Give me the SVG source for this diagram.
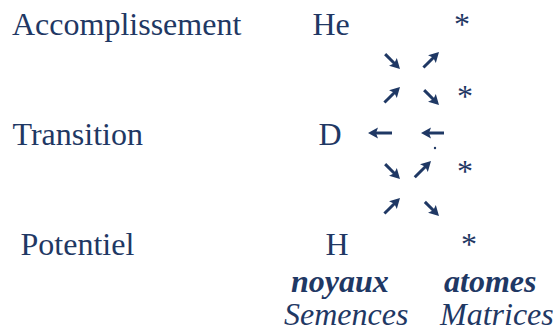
<svg xmlns="http://www.w3.org/2000/svg" width="553" height="333" viewBox="0 0 553 333">
  <defs>
    <style>
      text { font-family: "Liberation Serif", "Times New Roman", Tinos, "DejaVu Serif", serif; font-size: 32px; fill: #1F3864; }
      .bi { font-weight: bold; font-style: italic; }
      .i { font-style: italic; }
      .shaft { stroke: #1F3864; stroke-width: 3; }
      .head { fill: #1F3864; }
    </style>
  </defs>
  <rect width="553" height="333" fill="#ffffff"/>

  <g id="labels">
    <text x="12" y="35">Accomplissement</text>
    <text x="12.5" y="145">Transition</text>
    <text x="20.5" y="255">Potentiel</text>
  </g>

  <g id="node-He"><text x="312.5" y="35">He</text></g>
  <g id="node-D"><text x="318.5" y="145">D</text></g>
  <g id="node-H"><text x="325.5" y="255">H</text></g>

  <g id="star-1"><text x="454" y="35">*</text></g>
  <g id="star-2"><text x="457" y="107">*</text></g>
  <g id="star-3"><text x="457" y="182">*</text></g>
  <g id="star-4"><text x="461" y="255">*</text></g>

  <g id="col-noyaux">
    <text class="bi" x="291" y="292">noyaux</text>
    <text class="i" x="284" y="325">Semences</text>
  </g>
  <g id="col-atomes">
    <text class="bi" x="444" y="292">atomes</text>
    <text class="i" x="440" y="325">Matrices</text>
  </g>

  <g id="connectors">
    <g transform="translate(400,69) rotate(45)"><line class="shaft" x1="-21" y1="0" x2="-7" y2="0"/><path class="head" d="M0,0 L-10,-5.5 L-8,0 L-10,5.5 Z"/></g>
    <g transform="translate(439,52) rotate(-45)"><line class="shaft" x1="-22" y1="0" x2="-7" y2="0"/><path class="head" d="M0,0 L-10,-5.5 L-8,0 L-10,5.5 Z"/></g>
    <g transform="translate(400,87) rotate(-45)"><line class="shaft" x1="-22" y1="0" x2="-7" y2="0"/><path class="head" d="M0,0 L-10,-5.5 L-8,0 L-10,5.5 Z"/></g>
    <g transform="translate(439,105) rotate(45)"><line class="shaft" x1="-21" y1="0" x2="-7" y2="0"/><path class="head" d="M0,0 L-10,-5.5 L-8,0 L-10,5.5 Z"/></g>
    <g transform="translate(368,133) rotate(180)"><line class="shaft" x1="-24" y1="0" x2="-7" y2="0"/><path class="head" d="M0,0 L-10,-5.5 L-8,0 L-10,5.5 Z"/></g>
    <g transform="translate(421,133) rotate(180)"><line class="shaft" x1="-23" y1="0" x2="-7" y2="0"/><path class="head" d="M0,0 L-10,-5.5 L-8,0 L-10,5.5 Z"/></g>
    <g transform="translate(400,179) rotate(45)"><line class="shaft" x1="-21" y1="0" x2="-7" y2="0"/><path class="head" d="M0,0 L-10,-5.5 L-8,0 L-10,5.5 Z"/></g>
    <g transform="translate(431,161) rotate(-45)"><line class="shaft" x1="-23" y1="0" x2="-7" y2="0"/><path class="head" d="M0,0 L-10,-5.5 L-8,0 L-10,5.5 Z"/></g>
    <g transform="translate(400,198) rotate(-45)"><line class="shaft" x1="-22" y1="0" x2="-7" y2="0"/><path class="head" d="M0,0 L-10,-5.5 L-8,0 L-10,5.5 Z"/></g>
    <g transform="translate(439,216) rotate(45)"><line class="shaft" x1="-20" y1="0" x2="-7" y2="0"/><path class="head" d="M0,0 L-10,-5.5 L-8,0 L-10,5.5 Z"/></g>
    <circle class="head" cx="435" cy="148" r="1.2"/>
  </g>
</svg>
